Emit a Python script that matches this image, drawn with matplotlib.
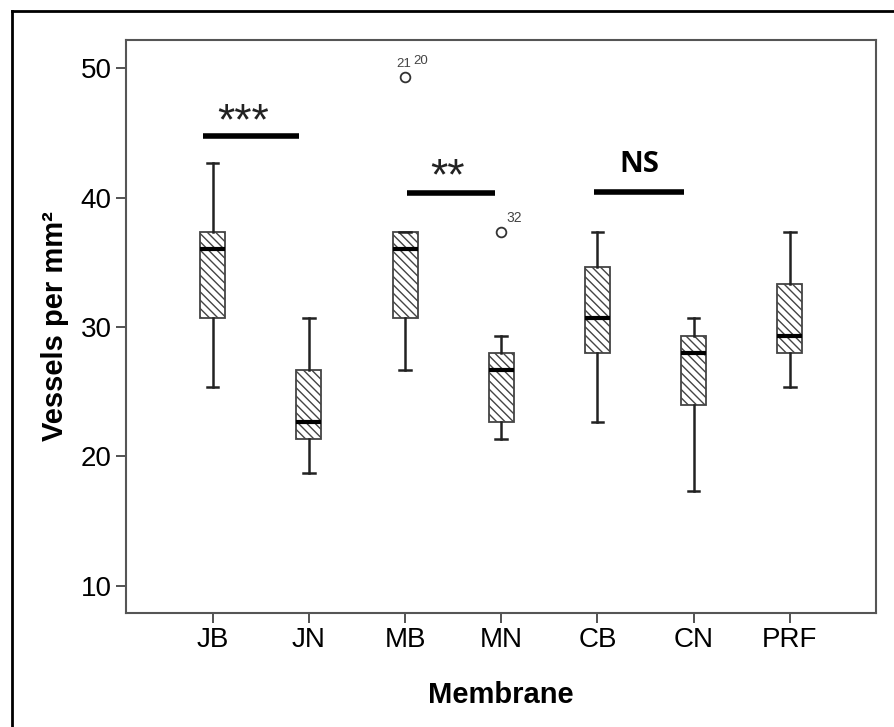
import matplotlib
matplotlib.use("Agg")
import matplotlib.pyplot as plt
from matplotlib.lines import Line2D

plt.rcParams["font.family"] = ["Liberation Sans", "DejaVu Sans"]
plt.rcParams["hatch.linewidth"] = 1.0
plt.rcParams["hatch.color"] = "#444444"

membranes = ["JB", "JN", "MB", "MN", "CB", "CN", "PRF"]
whis_lo = [25.33, 18.67, 26.67, 21.33, 22.67, 17.33, 25.33]
q1 = [30.67, 21.33, 30.67, 22.67, 28.0, 24.0, 28.0]
medians = [36.0, 22.67, 36.0, 26.67, 30.67, 28.0, 29.33]
q3 = [37.33, 26.67, 37.33, 28.0, 34.67, 29.33, 33.33]
whis_hi = [42.67, 30.67, 37.33, 29.33, 37.33, 30.67, 37.33]
outliers = [[], [], [49.33], [37.33], [], [], []]
outlier_ids = [[], [], ["21", "20"], ["32"], [], [], []]

# significance brackets
sig_x0 = [-0.1, 2.02, 3.96]
sig_x1 = [0.9, 2.94, 4.9]
sig_y = [44.8, 40.4, 40.45]
sig_labels = ["***", "**", "NS"]
sig_shift = [-0.08, -0.04, 0.0]
sig_lift = [0.1, 0.25, 1.0]

fig = plt.figure(figsize=(8.95, 7.27), dpi=100)
ax = fig.add_axes([0.1408, 0.1572, 0.8385, 0.7878])

stats = []
for i, name in enumerate(membranes):
    stats.append(dict(label=name, med=medians[i], q1=q1[i], q3=q3[i],
                      whislo=whis_lo[i], whishi=whis_hi[i], fliers=outliers[i]))

res = ax.bxp(stats, positions=range(len(membranes)), widths=0.26,
             patch_artist=True, showfliers=True,
             boxprops=dict(facecolor="white", edgecolor="#444444", linewidth=1.3, hatch="\\\\\\\\"),
             medianprops=dict(color="black", linewidth=3),
             whiskerprops=dict(color="#222222", linewidth=1.8),
             capprops=dict(color="#222222", linewidth=1.8),
             capwidths=0.12,
             flierprops=dict(marker="o", markerfacecolor="none", markeredgecolor="#333333",
                             markersize=7, markeredgewidth=1.3))

# outlier case numbers
for i, vals in enumerate(outliers):
    ids = outlier_ids[i]
    if not vals:
        continue
    if len(ids) == 2:
        ax.annotate(ids[0], (i, vals[0]), xytext=(-1, 5), textcoords="offset points",
                    ha="center", va="bottom", fontsize=9.5, color="#444444")
        ax.annotate(ids[1], (i, vals[0]), xytext=(11, 7), textcoords="offset points",
                    ha="center", va="bottom", fontsize=9.5, color="#444444")
    else:
        ax.annotate(ids[0], (i, vals[0]), xytext=(9, 5), textcoords="offset points",
                    ha="center", va="bottom", fontsize=10, color="#444444")

for x0, x1, y, lab, dx, dy in zip(sig_x0, sig_x1, sig_y, sig_labels, sig_shift, sig_lift):
    ax.plot([x0, x1], [y, y], color="black", linewidth=4, solid_capstyle="butt")
    if lab == "NS":
        ax.text((x0 + x1) / 2 + dx, y + dy, lab, ha="center", va="bottom",
                fontsize=21, fontweight="bold", family=["Open Sans", "DejaVu Sans"])
    else:
        ax.text((x0 + x1) / 2 + dx, y + dy, lab, ha="center", va="baseline",
                fontsize=32, color="#222222")

ax.set_xlim(-0.9, 6.9)
ax.set_ylim(7.9, 52.2)
ax.set_yticks([10, 20, 30, 40, 50])
ax.set_xticks(range(len(membranes)))
ax.set_xticklabels(membranes)
ax.tick_params(axis="both", labelsize=20, length=7, width=1.3, color="#444444")
for s in ax.spines.values():
    s.set_color("#555555")
    s.set_linewidth(1.5)

ax.set_xlabel("Membrane", fontsize=21, fontweight="bold", labelpad=20)
ax.set_ylabel("Vessels per mm²", fontsize=21, fontweight="bold", labelpad=8)

# outer frame (left and top edges visible)
fig.add_artist(Line2D([12 / 895, 12 / 895], [0, 1 - 11 / 727], color="black", linewidth=2))
fig.add_artist(Line2D([12 / 895, 1], [1 - 11 / 727, 1 - 11 / 727], color="black", linewidth=2))

fig.savefig("out.png", dpi=100)
